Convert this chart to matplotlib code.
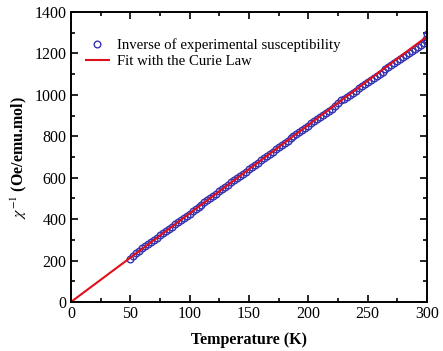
import numpy as np
import matplotlib.pyplot as plt
from matplotlib.ticker import MultipleLocator

# Inverse susceptibility data
temp = [50, 52.5, 55, 57.5, 60, 62.5, 65, 67.5, 70, 72.5, 75, 77.5, 80, 82.5, 85, 87.5,
        90, 92.5, 95, 97.5, 100, 102.5, 105, 107.5, 110, 112.5, 115, 117.5, 120, 122.5,
        125, 127.5, 130, 132.5, 135, 137.5, 140, 142.5, 145, 147.5, 150, 152.5, 155,
        157.5, 160, 162.5, 165, 167.5, 170, 172.5, 175, 177.5, 180, 182.5, 185, 187.5,
        190, 192.5, 195, 197.5, 200, 202.5, 205, 207.5, 210, 212.5, 215, 217.5, 220,
        222.5, 225, 227.5, 230, 232.5, 235, 237.5, 240, 242.5, 245, 247.5, 250, 252.5,
        255, 257.5, 260, 262.5, 265, 267.5, 270, 272.5, 275, 277.5, 280, 282.5, 285,
        287.5, 290, 292.5, 295, 297.5, 300, 299, 300]
chi_inv = [207, 222, 236, 248, 260, 270, 281, 290, 300, 311, 322, 333, 343, 354, 364, 375,
           386, 396, 407, 417, 427, 438, 449, 459, 470, 481, 492, 502, 513, 523,
           534, 545, 556, 566, 577, 588, 598, 609, 620, 630, 641, 652, 663,
           673, 684, 694, 705, 716, 726, 737, 748, 758, 768, 779, 790, 800,
           811, 822, 832, 842, 852, 862, 872, 882, 893, 903, 913, 924, 934,
           946, 960, 973, 982, 991, 1001, 1011, 1021, 1032, 1042, 1052, 1062, 1072,
           1082, 1092, 1101, 1111, 1125, 1135, 1145, 1155, 1165, 1175, 1184, 1194, 1204,
           1214, 1223, 1233, 1243, 1252, 1260, 1272, 1292]

# Curie law fit
fit_temp = [0, 300]
fit_chi = [0, 1282]

plt.rcParams['font.family'] = ['Liberation Serif', 'DejaVu Serif']
plt.rcParams['mathtext.fontset'] = 'stix'

fig = plt.figure(figsize=(4.43, 3.51), dpi=100)
ax = fig.add_axes([0.160, 0.1396, 0.804, 0.8262])

ax.plot(temp, chi_inv, 'o', mfc='none', mec='#3434b0', mew=1.0, ms=4.8,
        label='Inverse of experimental susceptibility')
ax.plot(fit_temp, fit_chi, '-', color='#e0101a', lw=1.5,
        label='Fit with the Curie Law')

ax.set_xlim(0, 300)
ax.set_ylim(0, 1400)
ax.xaxis.set_major_locator(MultipleLocator(50))
ax.xaxis.set_minor_locator(MultipleLocator(25))
ax.yaxis.set_major_locator(MultipleLocator(200))
ax.yaxis.set_minor_locator(MultipleLocator(100))
ax.tick_params(which='both', direction='in', top=True, right=True, labelsize=11.5,
               width=1.2, pad=3)
ax.tick_params(which='major', length=5)
ax.tick_params(which='minor', length=3)
for s in ax.spines.values():
    s.set_linewidth(1.4)

ax.set_xlabel('Temperature (K)', fontsize=11.5, fontweight='bold', labelpad=7)
ax.set_ylabel(r'$\chi^{-1}$ (Oe/emu.mol)', fontsize=11.5, fontweight='bold', labelpad=4)

ax.legend(loc='upper left', frameon=False, fontsize=10.6, handlelength=1.6,
          handletextpad=0.55, borderaxespad=0.6, labelspacing=0.2,
          bbox_to_anchor=(0.0, 0.96))

fig.savefig('out.png', dpi=100)
